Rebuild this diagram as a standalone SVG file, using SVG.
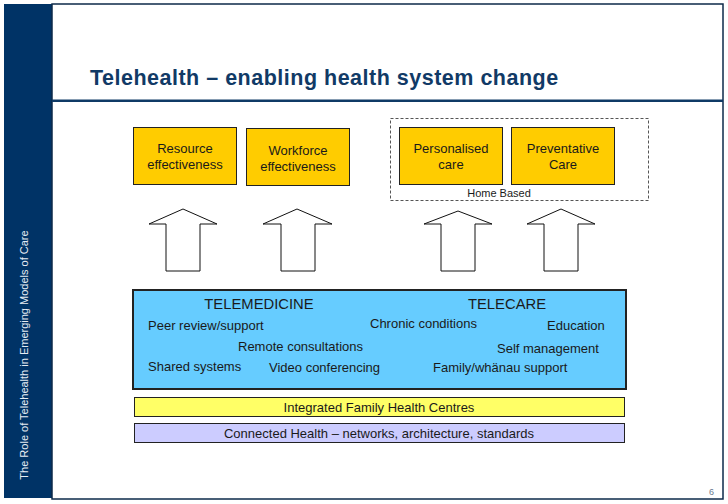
<svg xmlns="http://www.w3.org/2000/svg" width="728" height="504" viewBox="0 0 728 504">
<style>
.t{font-family:"Liberation Sans",Arial,sans-serif;fill:#1a1a1a}
.ybox{fill:#ffcc00;stroke:#222;stroke-width:1}
.arrow{fill:#fff;stroke:#111;stroke-width:1}
.c{text-anchor:middle}
</style>
<rect width="728" height="504" fill="#fff"/>
<g id="frame">
<rect x="4" y="4" width="48" height="494" fill="#003366"/>
<rect x="52" y="4" width="671" height="495" fill="none" stroke="#0d2a4a" stroke-width="1.5"/>
<rect x="52" y="99.5" width="671" height="2.5" fill="#0f3a66"/>
<text x="28" y="355" transform="rotate(-90 28 355)" text-anchor="middle" font-family="Liberation Sans,Arial,sans-serif" font-size="11" fill="#e6ecf3">The Role of Telehealth in Emerging Models of Care</text>
<text x="709" y="495" font-family="Liberation Sans,Arial,sans-serif" font-size="9" fill="#6a7a90">6</text>
</g>
<text id="title" x="90" y="85" font-family="Liberation Sans,Arial,sans-serif" font-weight="bold" font-size="21.5" letter-spacing="0.5" fill="#113a66">Telehealth – enabling health system change</text>
<g id="resource">
<rect class="ybox" x="133.5" y="127.5" width="103" height="57"/>
<text class="t c" x="185" y="153" font-size="13">Resource</text>
<text class="t c" x="185" y="169" font-size="13">effectiveness</text>
</g>
<g id="workforce">
<rect class="ybox" x="246.5" y="128.5" width="103" height="57"/>
<text class="t c" x="298" y="155" font-size="13">Workforce</text>
<text class="t c" x="298" y="171" font-size="13">effectiveness</text>
</g>
<g id="homebased">
<rect x="390.5" y="118.5" width="258" height="82" fill="none" stroke="#555" stroke-width="1" stroke-dasharray="3,2"/>
<text class="t c" x="499" y="197" font-size="11">Home Based</text>
</g>
<g id="personalised">
<rect class="ybox" x="399.5" y="127.5" width="103" height="57"/>
<text class="t c" x="451" y="153" font-size="13">Personalised</text>
<text class="t c" x="451" y="169" font-size="13">care</text>
</g>
<g id="preventative">
<rect class="ybox" x="511.5" y="127.5" width="103" height="57"/>
<text class="t c" x="563" y="153" font-size="13">Preventative</text>
<text class="t c" x="563" y="169" font-size="13">Care</text>
</g>
<g id="connectors">
<polygon class="arrow" points="183,209 217,224 200,224 200,271 166,271 166,224 149,224"/>
<polygon class="arrow" points="297,209 332,224 315,224 315,271 281,271 281,224 263,224"/>
<polygon class="arrow" points="458,211 492,224 475,224 475,271 441,271 441,224 424,224"/>
<polygon class="arrow" points="561,209 595,224 578,224 578,271 544,271 544,224 527,224"/>
</g>
<g id="telehealth">
<rect x="133" y="290" width="493" height="99" fill="#66ccff" stroke="#222" stroke-width="2"/>
<text class="t c" x="259" y="309" font-size="14.8">TELEMEDICINE</text>
<text class="t c" x="507" y="309" font-size="14.8">TELECARE</text>
<g font-size="13">
<text class="t" x="148" y="330">Peer review/support</text>
<text class="t" x="370" y="328">Chronic conditions</text>
<text class="t" x="547" y="330">Education</text>
<text class="t" x="238" y="351">Remote consultations</text>
<text class="t" x="497" y="353">Self management</text>
<text class="t" x="148" y="371">Shared systems</text>
<text class="t" x="269" y="372">Video conferencing</text>
<text class="t" x="433" y="372">Family/whänau support</text>
</g>
</g>
<g id="ifhc">
<rect x="134.5" y="397.5" width="490" height="19" fill="#ffff66" stroke="#222" stroke-width="1"/>
<text class="t c" x="379" y="412" font-size="13">Integrated Family Health Centres</text>
</g>
<g id="connected">
<rect x="134.5" y="423.5" width="490" height="19" fill="#ccccff" stroke="#222" stroke-width="1"/>
<text class="t c" x="379" y="438" font-size="13">Connected Health – networks, architecture, standards</text>
</g>
</svg>
